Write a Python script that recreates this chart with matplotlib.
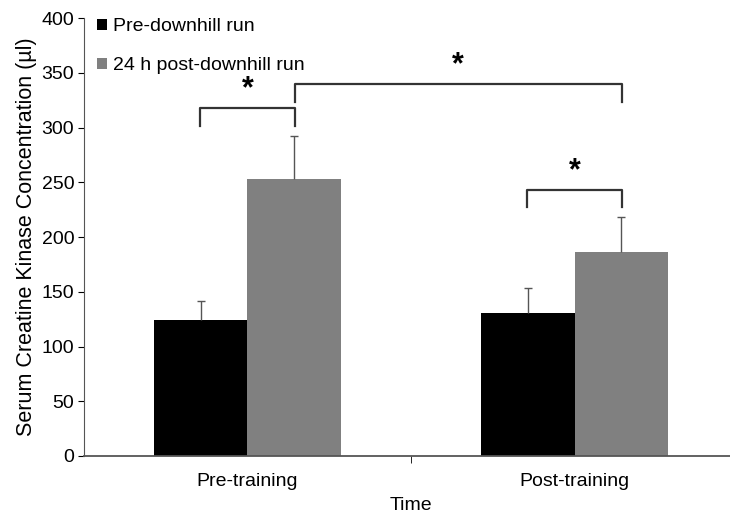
import matplotlib
matplotlib.use('Agg')
import matplotlib.pyplot as plt
import numpy as np

plt.rcParams['font.family'] = ['Liberation Sans', 'DejaVu Sans']

categories = ['Pre-training', 'Post-training']
series_names = ['Pre-downhill run', '24 h post-downhill run']
pre_run = [124, 131]
pre_run_err = [18, 22]
post_run = [253, 186]
post_run_err = [39, 32]
colors = ['#000000', '#808080']

# significance brackets: (x0, x1, y_end, y_top)
brackets = [
    (-0.144, 0.144, 301, 318),
    (0.856, 1.144, 227, 243),
    (0.144, 1.144, 323, 340),
]

FS = 14

fig = plt.figure(figsize=(7.3, 5.17), dpi=100)
ax = fig.add_axes([0.115, 0.118, 0.896, 0.847])

x = np.arange(len(categories))
w = 0.287
ax.bar(x - w / 2, pre_run, w, color=colors[0], label=series_names[0], zorder=2)
ax.bar(x + w / 2, post_run, w, color=colors[1], label=series_names[1], zorder=2)
for xs, vals, errs in [(x - w / 2, pre_run, pre_run_err), (x + w / 2, post_run, post_run_err)]:
    _, caps, _ = ax.errorbar(xs, vals, yerr=[np.zeros(2), errs], fmt='none',
                             ecolor='#555555', elinewidth=1, capsize=3,
                             capthick=1, zorder=3)
    caps[0].set_visible(False)  # only the upper cap

for x0, x1, ye, yt in brackets:
    ax.plot([x0, x0, x1, x1], [ye, yt, yt, ye], color='#333333', lw=1.6)
    ax.text((x0 + x1) / 2, yt + 3, '*', ha='center', va='bottom',
            fontsize=22, fontweight='bold')

ax.set_xlim(-0.5, 1.5)
ax.set_ylim(0, 400)
ax.set_yticks(range(0, 401, 50))
ax.set_xticks(x)
ax.set_xticklabels(categories)
ax.set_xticks([0.5], minor=True)
ax.tick_params(axis='x', which='major', length=0, pad=12, labelsize=FS)
ax.tick_params(axis='x', which='minor', length=5, direction='out')
ax.tick_params(axis='y', length=4, direction='out', labelsize=FS, pad=3)
for s in ['top', 'right']:
    ax.spines[s].set_visible(False)
ax.spines['left'].set_color('#555555')
ax.spines['bottom'].set_color('#555555')
ax.spines['bottom'].set_linewidth(1.3)

ax.set_xlabel('Time', fontsize=FS, labelpad=5)
ax.set_ylabel('Serum Creatine Kinase Concentration (µl)', fontsize=15.5, labelpad=3)

leg = ax.legend(loc='upper left', bbox_to_anchor=(-0.007, 1.04), frameon=False,
                fontsize=FS, handlelength=0.5, handleheight=0.5,
                handletextpad=0.35, labelspacing=1.15)

fig.savefig('out.png', dpi=100)
